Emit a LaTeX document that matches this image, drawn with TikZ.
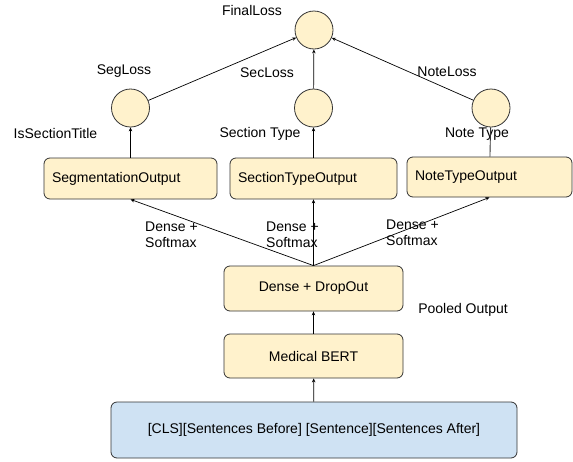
\documentclass[tikz,border=0pt]{standalone}
\usepackage{fontspec}
\setmainfont{Liberation Sans}
\usetikzlibrary{arrows.meta}
\definecolor{ybox}{HTML}{FFF2CC}
\definecolor{bbox}{HTML}{CFE2F3}
\definecolor{edge}{HTML}{333333}
\begin{document}
\begin{tikzpicture}[x=1pt,y=-1pt,
  font=\fontsize{14}{16}\selectfont,
  every node/.style={inner sep=0pt},
  circ/.style={circle,draw=edge,line width=0.8pt,fill=ybox,minimum size=38pt},
  lbox/.style={rectangle,rounded corners=6pt,draw=edge,line width=0.8pt,fill=ybox,align=left,inner xsep=8pt},
  cbox/.style={rectangle,rounded corners=6pt,draw=edge,line width=0.8pt,fill=ybox,align=center},
  lbl/.style={align=left},
  arr/.style={draw=black,line width=0.7pt,-{Stealth[length=4pt,width=3.5pt]}},
  plain/.style={draw=edge,line width=0.9pt}
]
\useasboundingbox (0,0) rectangle (573,461);
% circles
\node[circ] (fin) at (314,30) {};
\node[circ] (segc) at (130.5,108) {};
\node[circ] (secc) at (313.5,108) {};
\node[circ] (notec) at (491,108) {};
% boxes
\node[lbox,text width=157pt,minimum height=41pt] (seg) at (130.5,178.5) {SegmentationOutput};
\node[lbox,text width=151pt,minimum height=41pt] (sect) at (313.5,178.5) {SectionTypeOutput};
\node[lbox,text width=149pt,minimum height=40pt] (note) at (489.5,177) {NoteTypeOutput};
\node[cbox,minimum width=179pt,minimum height=45pt] (dd) at (313.5,288.5) {Dense + DropOut};
\node[cbox,minimum width=179pt,minimum height=44pt] (bert) at (313.5,356) {Medical BERT};
\node[cbox,fill=bbox,minimum width=406pt,minimum height=56pt] (inp) at (314,430) {[CLS][Sentences Before] [Sentence][Sentences After]};
% labels
\node (tfin) at (252,10) {FinalLoss};
\node (tseg) at (124,71) {SegLoss};
\node (tsec) at (267,73) {SecLoss};
\node (tnote) at (447,72) {NoteLoss};
\node (tis) at (55.5,133) {IsSectionTitle};
\node (tst) at (260,134) {Section Type};
\node (tnt) at (477,134) {Note Type};
\node (tpo) at (463,310) {Pooled Output};
\node[lbl,anchor=west] (ds1) at (145,235) {Dense +\\Softmax};
\node[lbl,anchor=west] (ds2) at (266,235) {Dense +\\Softmax};
\node[lbl,anchor=west] (ds3) at (386,233) {Dense +\\Softmax};
% connectors
\draw[arr] (inp) -- (bert);
\draw[arr] (bert) -- (dd);
\draw[arr] (dd.north) -- (seg.south);
\draw[arr] (dd.north) -- (sect.south);
\draw[arr] (dd.north) -- (note.south);
\draw[arr] (seg) -- (segc);
\draw[arr] (sect) -- (secc);
\draw[plain] (note) -- (notec);
\draw[arr] (segc) -- (fin);
\draw[arr] (secc) -- (fin);
\draw[arr] (notec) -- (fin);
\end{tikzpicture}
\end{document}
